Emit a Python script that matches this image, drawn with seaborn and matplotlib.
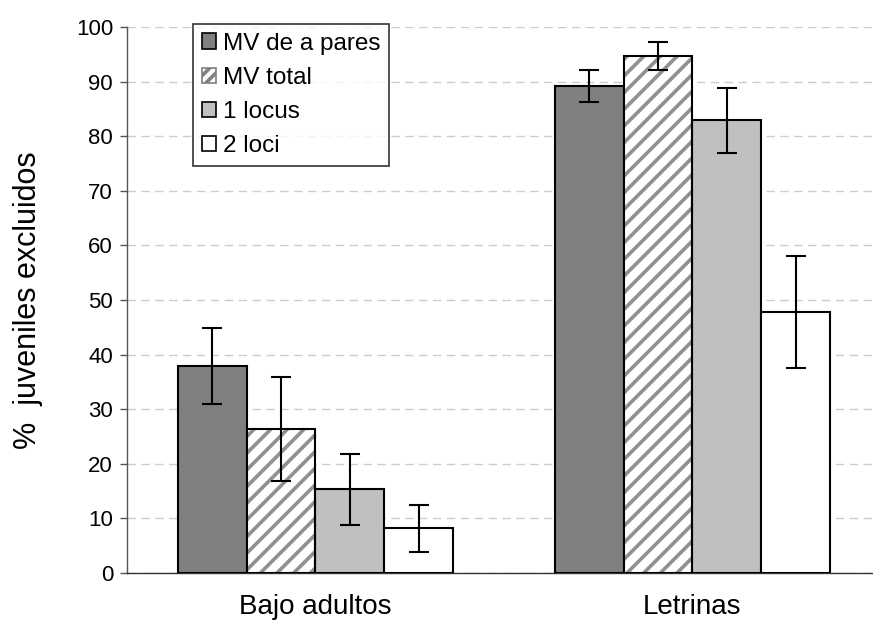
import matplotlib
matplotlib.use("Agg")
import matplotlib.pyplot as plt
import seaborn as sns
import pandas as pd
import numpy as np
from matplotlib.patches import Patch, Rectangle

# ---- data ----
groups = ["Bajo adultos", "Letrinas"]
series = ["MV de a pares", "MV total", "1 locus", "2 loci"]
mv_pares = [37.9, 89.2]
mv_total = [26.4, 94.7]
locus1 = [15.3, 82.9]
loci2 = [8.2, 47.8]
err_pares = [7.0, 2.9]
err_total = [9.5, 2.5]
err_locus1 = [6.5, 5.9]
err_loci2 = [4.3, 10.3]
yticks = [0, 10, 20, 30, 40, 50, 60, 70, 80, 90, 100]

values = [mv_pares, mv_total, locus1, loci2]
errors = [err_pares, err_total, err_locus1, err_loci2]
colors = ["#808080", "#ffffff", "#c0c0c0", "#ffffff"]

df = pd.DataFrame({
    "grupo": [g for s in series for g in groups],
    "serie": [s for s in series for g in groups],
    "valor": [v for vals in values for v in vals],
})

sns.set_style("white")
plt.rcParams["font.family"] = ["Liberation Sans", "DejaVu Sans"]
plt.rcParams["hatch.linewidth"] = 2.6
plt.rcParams["text.color"] = "black"
plt.rcParams["axes.labelcolor"] = "black"
plt.rcParams["xtick.labelcolor"] = "black"
plt.rcParams["ytick.labelcolor"] = "black"

fig = plt.figure(figsize=(8.73, 6.30), dpi=100)
ax = fig.add_axes([127/873, 57/630, 1 - 127/873, (573-27)/630])

sns.barplot(data=df, x="grupo", y="valor", hue="serie", order=groups,
            hue_order=series, palette=colors, width=0.73, gap=0,
            errorbar=None, edgecolor="black", linewidth=1.5, ax=ax,
            legend=False, zorder=3)

bar_containers = list(ax.containers)
for i, cont in enumerate(bar_containers):
    xs = [p.get_x() + p.get_width()/2 for p in cont.patches]
    hs = [p.get_height() for p in cont.patches]
    if series[i] == "MV total":
        for p in cont.patches:
            p.set_hatch("//")
            p.set_edgecolor("#909090")
            p.set_linewidth(0)
            ax.add_patch(Rectangle((p.get_x(), p.get_y()), p.get_width(),
                                   p.get_height(), fill=False,
                                   edgecolor="black", linewidth=1.5, zorder=4))
    ax.errorbar(xs, hs, yerr=errors[i], fmt="none", ecolor="black",
                elinewidth=1.5, capsize=7.5, capthick=1.5, zorder=5)

ax.set_ylim(0, 100)
ax.set_xlim(-0.5, 1.479)
ax.set_yticks(yticks)
ax.yaxis.grid(True, linestyle=(0, (6, 4)), color="#cccccc", linewidth=1.0)
ax.set_axisbelow(True)

ax.set_xticks([-0.5, 0.5])
ax.set_xticklabels([])
ax.set_xticks([0, 1], minor=True)
ax.set_xticklabels(groups, minor=True, fontsize=20, color="black")
ax.tick_params(axis="x", which="major", length=9, width=1, color="#555555", direction="out")
ax.tick_params(axis="x", which="minor", length=0, pad=15)
ax.tick_params(axis="y", length=5, width=1, color="#555555", labelsize=16, pad=5,
               left=True, labelcolor="black")
ax.set_xlabel("")
ax.set_ylabel("%  juveniles excluidos", fontsize=22, labelpad=24, color="black")

for s in ["top", "right"]:
    ax.spines[s].set_visible(False)
ax.spines["left"].set_color("#555555")
ax.spines["bottom"].set_color("#333333")
ax.spines["left"].set_linewidth(1)
ax.spines["bottom"].set_linewidth(1)

handles = [
    Patch(facecolor="#808080", edgecolor="black", linewidth=1.2),
    Patch(facecolor="white", edgecolor="#808080", hatch="///", linewidth=1.2),
    Patch(facecolor="#c0c0c0", edgecolor="black", linewidth=1.2),
    Patch(facecolor="white", edgecolor="black", linewidth=1.2),
]
leg = ax.legend(handles, series, loc="upper left", bbox_to_anchor=(66/746, 1.005),
                frameon=True, fancybox=False, fontsize=17.5, handlelength=0.6,
                handleheight=0.6, handletextpad=0.3, labelspacing=0.5,
                borderpad=0.35, borderaxespad=0)
leg.get_frame().set_edgecolor("black")
leg.get_frame().set_linewidth(1.2)
for t in leg.get_texts():
    t.set_color("black")

fig.savefig("out.png", dpi=100)
